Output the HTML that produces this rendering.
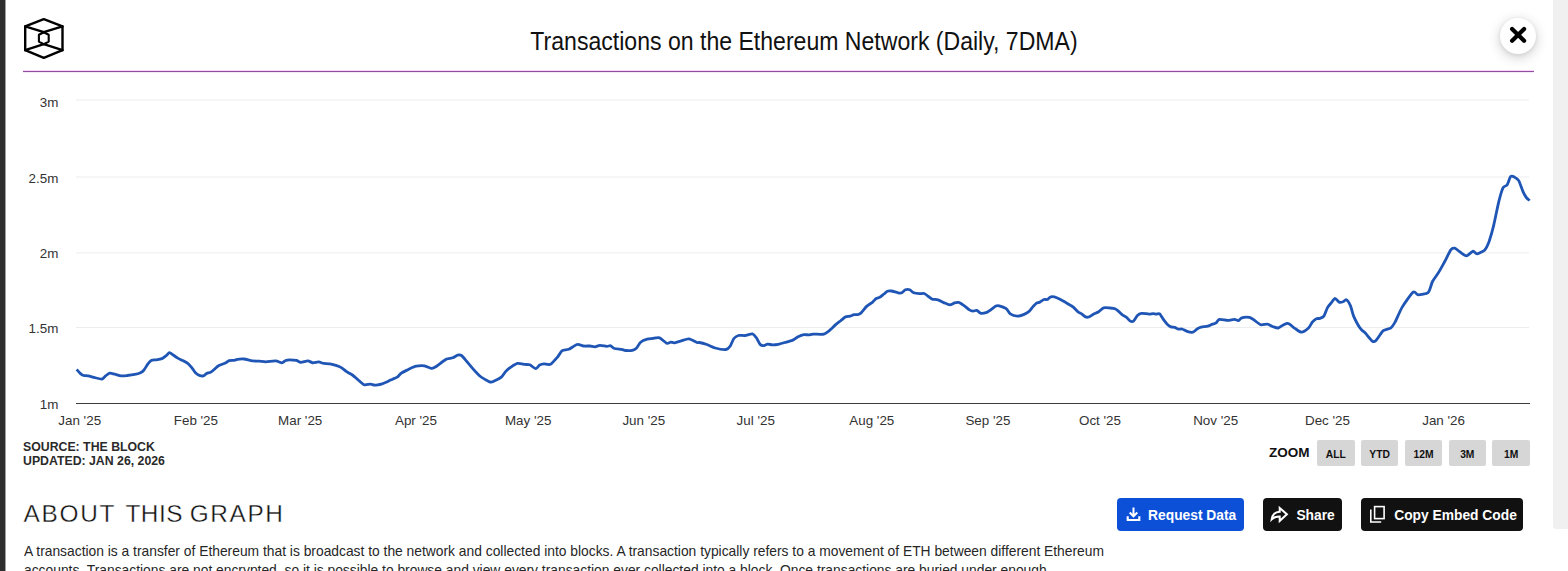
<!DOCTYPE html>
<html><head><meta charset="utf-8"><title>Transactions on the Ethereum Network</title>
<style>
html,body{margin:0;padding:0;background:#fff;}
body{width:1568px;height:571px;overflow:hidden;position:relative;font-family:"Liberation Sans",sans-serif;color:#111;}
.abs{position:absolute;}
#strip{left:0;top:0;width:5px;height:571px;background:#2e2e2e;}
#strip2{left:5px;top:0;width:1px;height:571px;background:#a0a0a0;}
#sb{left:1553px;top:0;width:15px;height:529px;background:#f0f0f0;border-bottom-left-radius:3px;}
#title{left:303.65px;top:26px;width:1000px;text-align:center;font-size:25.1px;line-height:30px;color:#111;white-space:nowrap;transform:scaleX(.919);transform-origin:50% 50%;}
#rule{left:23px;top:71px;width:1511px;height:1px;background:#914ea1;box-shadow:0 -1px 0 #f7d6f9,0 1px 0 #f3ebf5;}
#close{left:1500px;top:18px;width:36px;height:36px;border-radius:50%;background:#fff;box-shadow:0 3px 13px rgba(0,0,0,.20),0 1px 4px rgba(0,0,0,.08);}
#src{left:23px;top:439.5px;font-weight:bold;font-size:12.3px;line-height:14.4px;color:#2a2a2a;white-space:nowrap;}
#zoom{left:1269px;top:445px;font-weight:bold;font-size:13.5px;line-height:16px;color:#111;}
.zb{position:absolute;top:440px;width:37.6px;height:26px;background:#d6d6d6;border-radius:2px;font-weight:bold;font-size:10.3px;line-height:29.8px;text-align:center;color:#111;}
#about{left:0;top:498.8px;font-size:24.4px;line-height:30px;color:#111;white-space:nowrap;-webkit-text-stroke:.35px #fff;}
#about span{position:absolute;top:0;}
.btn{position:absolute;top:497.5px;height:33.2px;border-radius:4px;background:#111;color:#fff;font-weight:bold;font-size:13.8px;line-height:35.2px;white-space:nowrap;}
.btn span{position:absolute;top:0;}
#para,#para2{left:24.3px;top:541.1px;font-size:15px;line-height:19.2px;color:#262626;white-space:nowrap;transform:scaleX(.9215);transform-origin:0 0;}
#para2{top:559.9px;}
</style></head><body>
<div id="strip" class="abs"></div><div id="strip2" class="abs"></div>
<div id="sb" class="abs"></div>
<svg class="abs" style="left:0;top:0" width="1568" height="571" viewBox="0 0 1568 571">
 <g fill="none" stroke="#000" stroke-width="2.4" stroke-linejoin="round" stroke-linecap="round">
  <path d="M43.8,19.1 L62.5,26.3 L62.5,50.2 L43.8,57.9 L25.2,50.2 L25.2,26.3 Z"/>
  <path d="M25.2,26.3 L43.8,32.2 L62.5,26.3 M25.2,50.2 L43.8,44.2 L62.5,50.2"/>
  <path d="M43.8,32.2 L48.7,34.8 L48.7,41.6 L43.8,44.2 L38.9,41.6 L38.9,34.8 Z" stroke-width="2.1"/>
 </g>
 <rect x="76" y="99.5" width="1453" height="1" fill="#ededed"/><rect x="76" y="176.5" width="1453" height="1" fill="#ededed"/><rect x="76" y="252.4" width="1453" height="1" fill="#ededed"/><rect x="76" y="327.0" width="1453" height="1" fill="#ededed"/>
 <rect x="76" y="403" width="1454" height="1" fill="#3c3c3c"/>
 <g font-family="Liberation Sans, sans-serif" font-size="13.4" fill="#333"><text x="79.7" y="425.4" text-anchor="middle">Jan '25</text><text x="195.9" y="425.4" text-anchor="middle">Feb '25</text><text x="300.2" y="425.4" text-anchor="middle">Mar '25</text><text x="416" y="425.4" text-anchor="middle">Apr '25</text><text x="528.2" y="425.4" text-anchor="middle">May '25</text><text x="643.8" y="425.4" text-anchor="middle">Jun '25</text><text x="755.7" y="425.4" text-anchor="middle">Jul '25</text><text x="871.8" y="425.4" text-anchor="middle">Aug '25</text><text x="987.9" y="425.4" text-anchor="middle">Sep '25</text><text x="1100" y="425.4" text-anchor="middle">Oct '25</text><text x="1215.7" y="425.4" text-anchor="middle">Nov '25</text><text x="1327.5" y="425.4" text-anchor="middle">Dec '25</text><text x="1443.6" y="425.4" text-anchor="middle">Jan '26</text><text x="58.4" y="106.8" text-anchor="end">3m</text><text x="58.4" y="182.6" text-anchor="end">2.5m</text><text x="58.4" y="258.1" text-anchor="end">2m</text><text x="58.4" y="333.4" text-anchor="end">1.5m</text><text x="58.4" y="408.7" text-anchor="end">1m</text></g>
 <path d="M76.6,369.4 C77.0,369.8 79.1,372.4 79.9,373.1 C80.7,373.8 82.6,375.2 83.6,375.5 C84.6,375.8 86.9,375.6 88.2,375.9 C89.5,376.2 93.3,377.3 94.9,377.7 C96.5,378.1 100.8,379.2 102.0,379.0 C103.2,378.8 104.7,376.6 105.6,375.9 C106.5,375.2 108.7,373.3 109.8,373.1 C110.9,372.9 113.5,373.9 114.8,374.2 C116.1,374.5 119.7,375.7 121.1,375.9 C122.5,376.1 125.6,375.7 127.2,375.5 C128.8,375.3 133.1,374.7 134.7,374.4 C136.3,374.1 139.4,373.2 140.5,372.7 C141.6,372.2 142.9,371.2 143.8,370.2 C144.7,369.2 147.0,365.0 147.9,363.9 C148.8,362.8 150.2,361.1 151.2,360.6 C152.2,360.1 154.9,360.0 156.2,359.8 C157.5,359.6 160.8,359.1 162.0,358.6 C163.2,358.1 165.3,356.3 166.2,355.6 C167.1,354.9 168.7,352.8 169.5,352.7 C170.3,352.6 171.8,354.2 172.8,354.8 C173.8,355.4 176.6,357.4 177.8,358.1 C179.0,358.8 181.6,360.0 182.8,360.6 C184.0,361.2 187.0,362.8 188.1,363.6 C189.2,364.4 191.0,366.7 191.9,367.8 C192.8,368.9 194.8,372.2 195.7,373.1 C196.6,374.0 198.4,375.1 199.3,375.4 C200.2,375.7 202.6,376.1 203.5,375.9 C204.4,375.7 205.9,373.8 206.8,373.4 C207.7,373.0 209.9,372.7 210.9,372.1 C211.9,371.5 214.2,369.4 215.1,368.6 C216.0,367.8 217.6,366.3 218.9,365.6 C220.2,364.9 224.7,363.4 225.9,362.8 C227.1,362.2 228.2,360.9 229.2,360.6 C230.2,360.3 233.2,360.5 234.2,360.3 C235.2,360.1 236.3,359.5 237.5,359.3 C238.7,359.1 242.4,358.8 244.1,359.0 C245.8,359.2 250.7,360.7 252.4,360.9 C254.1,361.1 257.4,361.0 259.0,361.1 C260.6,361.2 263.8,361.8 265.7,361.8 C267.6,361.8 273.7,360.8 275.6,360.9 C277.5,361.0 280.7,362.8 281.9,362.8 C283.1,362.8 284.7,360.9 285.6,360.5 C286.5,360.1 288.5,359.8 289.7,359.8 C290.9,359.8 295.0,360.0 296.3,360.3 C297.6,360.6 299.4,362.2 300.8,362.3 C302.2,362.4 306.5,360.8 307.9,360.9 C309.3,361.0 311.6,362.7 312.9,362.8 C314.2,362.9 317.4,361.8 318.7,361.9 C320.0,362.0 322.4,363.2 323.7,363.4 C325.0,363.6 328.5,363.6 330.0,363.9 C331.5,364.2 335.3,365.2 336.6,365.6 C337.9,366.0 340.1,366.9 341.3,367.6 C342.5,368.3 345.3,370.8 346.6,371.7 C347.9,372.6 351.0,374.0 352.4,375.0 C353.8,376.0 356.8,378.9 358.2,380.0 C359.6,381.1 362.6,384.2 364.0,384.7 C365.4,385.2 369.3,384.1 370.6,384.2 C371.9,384.3 373.4,385.2 374.8,385.2 C376.2,385.2 380.7,384.2 382.2,383.8 C383.7,383.4 386.7,382.0 388.0,381.4 C389.3,380.8 391.9,379.4 393.0,378.9 C394.1,378.4 396.2,377.9 397.2,377.2 C398.2,376.5 400.1,374.0 401.3,373.1 C402.5,372.2 406.5,370.4 407.9,369.7 C409.3,369.0 411.9,367.7 412.9,367.3 C413.9,366.9 414.8,366.3 416.2,366.1 C417.6,365.9 422.8,365.6 424.5,365.9 C426.2,366.2 429.9,368.1 431.1,368.3 C432.3,368.5 433.7,367.9 434.8,367.3 C435.9,366.7 438.9,364.4 440.3,363.4 C441.7,362.4 445.2,359.8 446.6,359.1 C448.0,358.4 451.4,358.3 452.7,357.8 C454.0,357.3 456.7,355.5 457.7,355.2 C458.7,354.9 460.4,354.8 461.5,355.5 C462.6,356.2 465.5,360.0 466.8,361.5 C468.1,363.0 471.2,366.8 472.6,368.4 C474.0,370.0 477.8,374.2 479.2,375.5 C480.6,376.8 483.6,378.6 485.0,379.4 C486.4,380.2 489.5,382.1 490.8,382.2 C492.1,382.3 494.5,380.8 495.8,380.2 C497.1,379.6 500.4,377.9 501.6,376.9 C502.8,375.9 504.8,372.5 505.8,371.4 C506.8,370.3 508.5,368.7 509.9,367.8 C511.3,366.9 515.7,363.8 517.4,363.4 C519.1,363.0 523.4,364.2 524.8,364.4 C526.2,364.6 528.5,364.3 529.8,364.8 C531.1,365.3 534.4,368.6 535.6,368.6 C536.8,368.6 538.7,365.6 539.7,365.1 C540.7,364.6 542.6,364.0 543.9,363.9 C545.2,363.8 548.9,365.2 550.5,364.3 C552.1,363.4 556.6,358.1 558.0,356.5 C559.4,354.9 560.8,351.5 562.1,350.7 C563.4,349.9 567.0,350.0 568.8,349.3 C570.5,348.6 575.4,344.9 577.1,344.5 C578.8,344.1 582.2,345.8 583.7,346.0 C585.2,346.2 588.7,345.9 590.0,346.0 C591.3,346.1 593.8,346.9 595.0,346.8 C596.2,346.7 598.5,345.4 599.9,345.3 C601.3,345.2 605.3,346.2 606.6,346.3 C607.9,346.4 609.8,345.5 610.7,345.8 C611.6,346.1 613.2,348.1 614.5,348.5 C615.8,348.9 620.2,349.1 621.5,349.3 C622.8,349.5 624.3,350.4 625.6,350.5 C626.9,350.6 631.0,350.6 632.3,350.3 C633.6,350.0 635.4,349.2 636.4,348.3 C637.4,347.4 639.3,343.3 640.6,342.2 C641.9,341.1 645.8,339.6 647.2,339.2 C648.6,338.8 651.6,338.6 653.0,338.4 C654.4,338.2 658.0,337.3 659.6,337.9 C661.2,338.5 665.3,342.7 666.6,343.2 C667.9,343.7 669.8,342.2 670.7,342.2 C671.6,342.2 673.4,343.0 674.6,342.8 C675.8,342.6 679.5,341.4 681.2,340.9 C682.9,340.4 687.2,338.7 689.0,338.9 C690.8,339.1 695.7,342.1 696.9,342.5 C698.1,342.9 698.2,342.3 699.4,342.5 C700.6,342.7 705.1,343.9 706.9,344.5 C708.7,345.1 713.0,347.4 715.2,348.0 C717.4,348.6 724.3,349.7 726.0,349.5 C727.7,349.3 729.2,347.6 730.1,346.3 C731.0,345.0 732.9,339.8 733.9,338.5 C734.9,337.2 737.1,335.9 738.4,335.5 C739.7,335.1 743.4,335.7 745.0,335.5 C746.6,335.3 751.2,333.6 752.5,333.9 C753.8,334.2 755.4,336.5 756.3,337.7 C757.2,338.9 759.2,343.4 760.0,344.3 C760.8,345.2 762.4,345.7 763.3,345.7 C764.2,345.7 766.6,344.3 767.7,344.2 C768.8,344.1 771.2,344.8 772.4,344.8 C773.6,344.8 776.8,344.6 778.2,344.3 C779.6,344.0 783.2,343.0 784.8,342.5 C786.4,342.0 790.7,341.1 792.3,340.4 C793.9,339.7 796.7,337.4 798.1,336.7 C799.5,336.0 802.6,334.8 803.9,334.6 C805.2,334.4 807.8,335.0 808.9,334.9 C810.0,334.8 811.3,334.2 813.0,334.1 C814.7,334.0 821.8,334.6 823.8,334.1 C825.8,333.6 829.0,330.8 830.4,329.7 C831.8,328.6 834.2,325.8 835.4,324.8 C836.6,323.8 839.2,321.9 840.4,321.0 C841.6,320.1 844.2,317.6 845.3,317.0 C846.4,316.4 849.0,316.5 850.0,316.2 C851.0,315.9 853.2,314.9 854.1,314.7 C855.0,314.5 856.7,314.8 857.5,314.6 C858.3,314.4 859.7,314.1 860.8,313.1 C861.9,312.1 865.2,307.7 866.6,306.4 C868.0,305.1 871.3,303.2 872.4,302.3 C873.5,301.4 875.3,299.1 876.2,298.5 C877.1,297.9 878.9,297.8 879.8,297.3 C880.7,296.8 883.1,294.7 884.0,294.0 C884.9,293.3 886.4,291.6 887.3,291.2 C888.2,290.8 890.2,290.8 891.5,291.0 C892.8,291.2 896.9,292.6 898.1,292.8 C899.3,293.0 900.8,293.2 901.7,292.8 C902.6,292.4 904.6,290.2 905.5,289.8 C906.4,289.4 908.7,289.4 909.7,289.8 C910.7,290.2 912.6,292.3 913.8,292.8 C915.0,293.3 918.4,293.6 919.6,293.7 C920.8,293.8 923.1,293.2 924.1,293.5 C925.1,293.8 927.0,295.4 927.9,296.1 C928.8,296.8 930.9,298.7 932.1,299.1 C933.3,299.5 936.5,299.4 937.9,299.8 C939.3,300.2 942.3,302.0 943.7,302.6 C945.1,303.2 948.5,304.9 949.8,304.9 C951.1,304.9 953.5,303.2 954.5,302.9 C955.5,302.6 957.4,302.1 958.6,302.4 C959.8,302.7 963.1,304.9 964.4,305.8 C965.7,306.7 968.4,309.3 969.4,309.9 C970.4,310.5 972.1,311.0 973.0,311.1 C973.9,311.2 975.9,310.1 976.8,310.4 C977.7,310.7 979.8,313.2 981.0,313.4 C982.2,313.6 985.6,312.8 986.8,312.4 C988.0,312.0 989.8,310.4 990.9,309.7 C992.0,309.0 994.9,306.6 995.9,306.1 C996.9,305.6 998.0,305.5 999.2,305.8 C1000.4,306.1 1004.9,307.8 1006.2,308.7 C1007.5,309.6 1009.0,313.0 1010.3,313.9 C1011.6,314.8 1015.9,316.1 1017.5,316.2 C1019.1,316.3 1022.7,315.0 1024.1,314.4 C1025.5,313.8 1028.0,312.3 1029.1,311.4 C1030.2,310.5 1032.3,307.4 1033.2,306.4 C1034.1,305.4 1035.7,303.6 1036.5,303.1 C1037.3,302.6 1039.0,302.5 1039.9,302.1 C1040.8,301.7 1043.1,299.8 1044.0,299.5 C1044.9,299.2 1046.5,299.8 1047.3,299.5 C1048.1,299.2 1049.8,297.0 1051.0,296.8 C1052.2,296.6 1055.6,297.3 1057.3,298.0 C1059.0,298.7 1063.8,301.4 1065.6,302.4 C1067.4,303.4 1071.6,305.7 1073.0,306.8 C1074.4,307.9 1077.0,311.1 1078.0,311.9 C1079.0,312.7 1080.4,313.1 1081.3,313.7 C1082.2,314.3 1084.6,316.5 1085.5,316.9 C1086.4,317.3 1087.8,317.3 1088.8,317.0 C1089.8,316.7 1092.5,314.7 1093.7,314.1 C1094.9,313.5 1097.5,312.4 1098.7,311.7 C1099.9,311.0 1102.4,308.2 1103.7,307.8 C1105.0,307.4 1108.7,307.9 1110.0,308.0 C1111.3,308.1 1114.0,308.4 1115.0,308.8 C1116.0,309.2 1117.4,310.4 1118.3,311.1 C1119.2,311.8 1121.4,314.1 1122.4,314.8 C1123.4,315.5 1125.7,316.6 1126.6,317.3 C1127.5,318.0 1129.4,320.7 1130.2,321.1 C1131.0,321.5 1132.7,321.7 1133.5,321.1 C1134.3,320.5 1136.5,316.5 1137.4,315.6 C1138.3,314.7 1140.1,313.5 1141.5,313.3 C1142.9,313.1 1147.6,314.1 1149.0,314.1 C1150.4,314.1 1152.2,313.6 1153.1,313.6 C1154.0,313.6 1155.6,314.1 1156.4,314.1 C1157.2,314.1 1158.8,313.1 1159.7,313.8 C1160.6,314.5 1163.0,319.0 1163.9,320.2 C1164.8,321.4 1166.4,323.4 1167.2,324.2 C1168.0,325.0 1170.0,326.5 1170.9,326.9 C1171.8,327.3 1173.8,327.1 1174.7,327.4 C1175.6,327.7 1177.9,329.0 1178.8,329.2 C1179.7,329.4 1181.1,328.7 1182.1,329.0 C1183.1,329.3 1185.8,331.0 1187.1,331.4 C1188.4,331.8 1191.7,332.5 1192.9,332.2 C1194.1,331.9 1196.1,329.6 1197.1,329.0 C1198.1,328.4 1200.0,327.5 1201.2,327.2 C1202.4,326.9 1206.6,326.5 1207.8,326.2 C1209.0,325.9 1210.2,325.1 1211.1,324.7 C1212.0,324.3 1214.8,323.7 1215.8,323.1 C1216.8,322.5 1218.0,319.7 1219.4,319.4 C1220.8,319.1 1226.0,320.4 1227.7,320.4 C1229.5,320.4 1233.1,319.4 1234.4,319.4 C1235.7,319.4 1237.6,320.8 1238.5,320.6 C1239.4,320.4 1240.5,318.2 1241.8,317.8 C1243.1,317.4 1247.8,317.1 1249.3,317.4 C1250.8,317.7 1253.0,319.3 1254.3,320.2 C1255.6,321.1 1259.1,324.2 1260.6,324.7 C1262.1,325.2 1266.1,324.0 1267.5,324.2 C1268.9,324.4 1271.2,326.1 1272.5,326.5 C1273.8,326.9 1277.0,328.2 1278.3,328.0 C1279.6,327.8 1282.3,325.4 1283.3,324.9 C1284.3,324.4 1286.3,323.5 1287.1,323.4 C1287.9,323.3 1289.0,323.8 1289.9,324.4 C1290.8,325.0 1293.5,327.5 1294.9,328.4 C1296.3,329.3 1299.9,332.2 1301.5,332.2 C1303.1,332.2 1307.2,329.2 1308.5,328.0 C1309.8,326.8 1311.4,323.3 1312.3,322.2 C1313.2,321.1 1315.5,319.1 1316.4,318.7 C1317.3,318.3 1318.9,318.7 1319.8,318.4 C1320.7,318.1 1323.0,317.4 1323.9,316.1 C1324.8,314.8 1326.6,309.2 1327.5,307.6 C1328.4,306.0 1330.5,303.8 1331.4,302.7 C1332.3,301.6 1334.1,298.4 1335.0,298.4 C1335.9,298.4 1338.4,301.9 1339.3,302.3 C1340.2,302.7 1342.2,302.1 1343.0,301.8 C1343.8,301.5 1345.4,299.4 1346.3,299.8 C1347.2,300.2 1349.5,303.7 1350.4,305.6 C1351.3,307.5 1352.8,314.2 1353.7,316.4 C1354.6,318.6 1357.0,323.1 1357.9,324.7 C1358.8,326.3 1360.8,329.0 1361.7,330.0 C1362.6,331.0 1364.4,332.1 1365.3,333.0 C1366.2,333.9 1368.1,336.5 1369.0,337.5 C1369.9,338.5 1371.8,341.1 1372.6,341.4 C1373.4,341.7 1374.8,341.6 1376.0,340.4 C1377.2,339.2 1381.6,332.1 1383.3,330.7 C1385.0,329.3 1389.2,329.1 1390.6,328.1 C1392.0,327.1 1393.5,324.8 1394.9,322.4 C1396.3,319.9 1400.1,310.6 1402.2,307.1 C1404.3,303.6 1411.3,293.5 1413.2,292.1 C1415.1,290.7 1416.5,294.8 1418.2,294.8 C1420.0,294.8 1426.5,294.0 1428.2,292.4 C1429.9,290.8 1431.3,283.8 1432.5,281.5 C1433.7,279.2 1436.8,275.3 1438.2,273.1 C1439.6,270.9 1442.7,265.2 1444.2,262.5 C1445.7,259.8 1449.6,251.6 1450.8,249.9 C1452.0,248.2 1453.8,248.0 1454.8,248.2 C1455.8,248.4 1458.4,250.9 1459.8,251.8 C1461.2,252.7 1464.9,255.9 1466.5,255.8 C1468.1,255.7 1471.9,251.4 1473.1,251.2 C1474.3,251.0 1475.7,254.0 1477.1,253.8 C1478.5,253.6 1483.4,251.3 1484.8,249.9 C1486.2,248.5 1488.0,244.4 1489.1,241.5 C1490.1,238.6 1492.7,229.6 1493.8,224.9 C1494.9,220.2 1497.7,206.0 1498.8,201.6 C1499.9,197.2 1502.1,189.5 1503.1,187.6 C1504.1,185.7 1506.2,186.3 1507.1,185.0 C1508.0,183.7 1509.8,177.5 1510.7,176.6 C1511.6,175.7 1513.8,176.8 1514.7,177.3 C1515.6,177.8 1517.7,178.9 1518.7,180.6 C1519.7,182.3 1522.1,189.6 1523.0,191.6 C1523.9,193.6 1525.6,196.5 1526.4,197.6 C1527.2,198.7 1529.3,200.2 1529.7,200.6" fill="none" stroke="#1f55b4" stroke-width="2.8" stroke-linejoin="round" stroke-linecap="butt"/>
</svg>
<div id="title" class="abs">Transactions on the Ethereum Network (Daily, 7DMA)</div>
<div id="rule" class="abs"></div>
<div id="close" class="abs"><svg width="36" height="36" viewBox="0 0 36 36"><path d="M12.1,11 L24.1,22.8 M24.1,11 L12.1,22.8" stroke="#000" stroke-width="4.2" stroke-linecap="round" fill="none"/></svg></div>
<div id="src" class="abs">SOURCE: THE BLOCK<br>UPDATED: JAN 26, 2026</div>
<div id="zoom" class="abs">ZOOM</div>
<div class="zb" style="left:1317px">ALL</div><div class="zb" style="left:1360.8px">YTD</div><div class="zb" style="left:1404.7px">12M</div><div class="zb" style="left:1448.5px">3M</div><div class="zb" style="left:1492.3px">1M</div>
<div id="about" class="abs"><span style="left:23.6px;letter-spacing:1.7px">ABOUT</span><span style="left:125.4px;letter-spacing:.55px">THIS</span><span style="left:189.8px;letter-spacing:1.6px">GRAPH</span></div>
<div class="btn" style="left:1117.1px;width:126.8px;background:#0d50d8;">
 <svg class="abs" style="left:9.2px;top:9.5px" width="15" height="15" viewBox="0 0 15 15"><path d="M7.5,0.4 V9 M3.7,5.5 L7.5,9.3 L11.3,5.5" stroke="#fff" stroke-width="2" fill="none"/><path d="M1.7,9.3 V13 H13.3 V9.3" stroke="#fff" stroke-width="2.1" fill="none"/></svg>
 <span style="left:31px">Request Data</span></div>
<div class="btn" style="left:1263px;width:78.8px;">
 <svg class="abs" style="left:7px;top:7.5px" width="20" height="19" viewBox="0 0 20 19"><path d="M9.7,2.9 L16.9,9.3 L9.7,15.9 V11.4 C6.3,11.3 3.7,12.2 1.7,14.3 C2.4,9.5 5.2,6.9 9.7,6.7 Z" stroke="#fff" stroke-width="2" fill="none" stroke-linejoin="miter"/></svg>
 <span style="left:33.4px">Share</span></div>
<div class="btn" style="left:1360.8px;width:162.3px;">
 <svg class="abs" style="left:8.5px;top:7.5px" width="18" height="19" viewBox="0 0 18 19"><rect x="5.6" y="1.6" width="9.5" height="12" stroke="#fff" stroke-width="1.6" fill="none"/><path d="M1.8,4.4 V17 H12.2" stroke="#fff" stroke-width="1.6" fill="none"/></svg>
 <span style="left:33.4px">Copy Embed Code</span></div>
<div id="para" class="abs">A transaction is a transfer of Ethereum that is broadcast to the network and collected into blocks. A transaction typically refers to a movement of ETH between different Ethereum</div>
<div id="para2" class="abs para">accounts. Transactions are not encrypted, so it is possible to browse and view every transaction ever collected into a block. Once transactions are buried under enough</div>
</body></html>
